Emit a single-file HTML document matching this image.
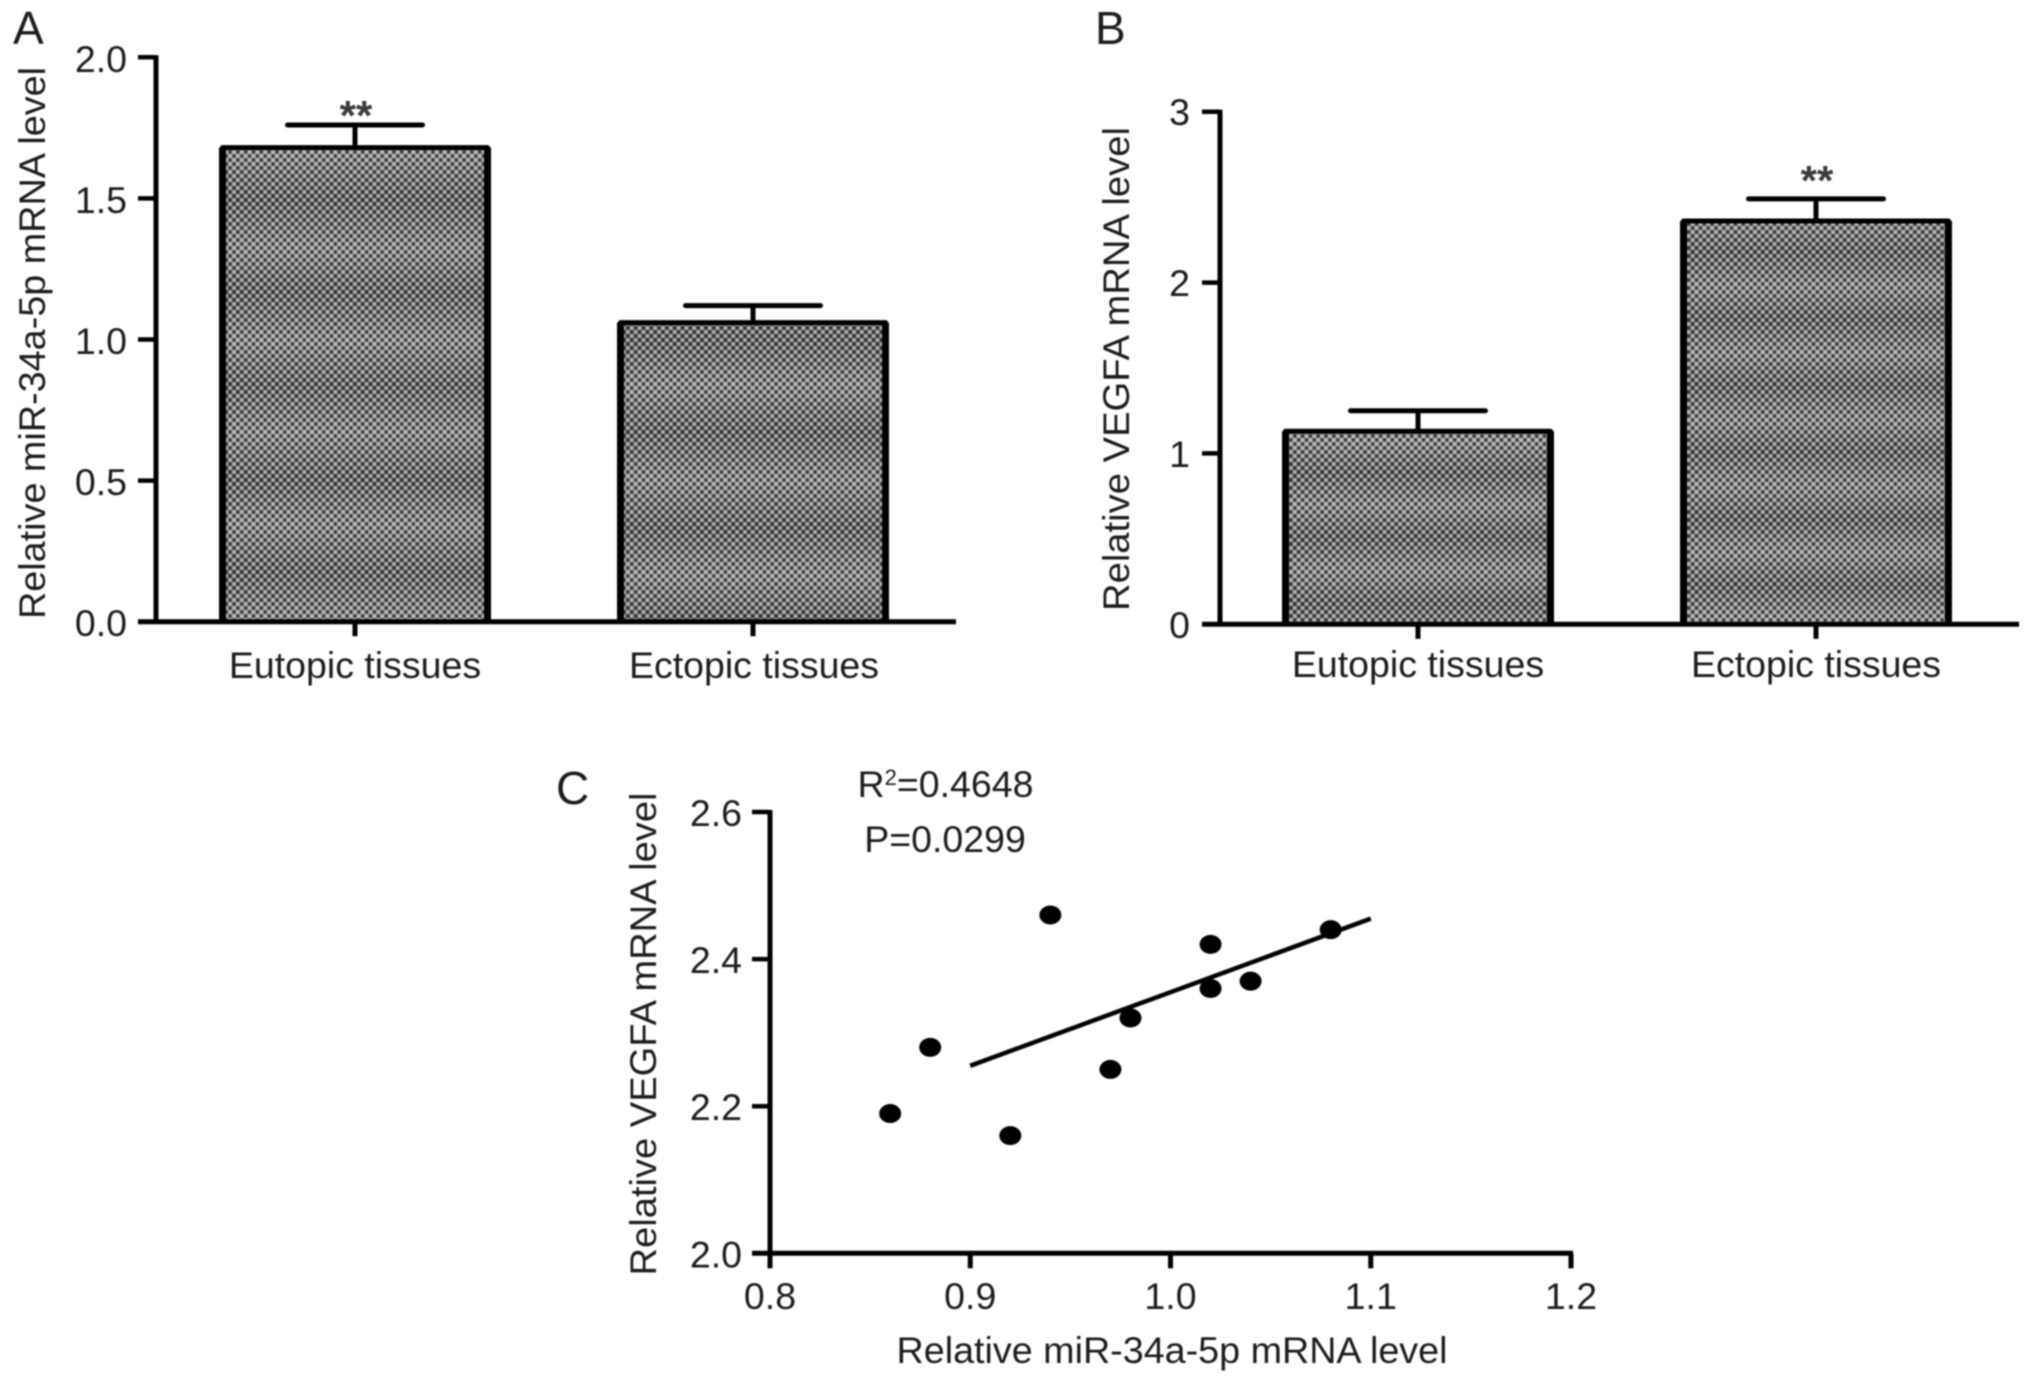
<!DOCTYPE html>
<html>
<head>
<meta charset="utf-8">
<title>miR-34a-5p and VEGFA expression</title>
<style>
html,body{margin:0;padding:0;background:#fff;width:2031px;height:1383px;overflow:hidden}
svg{display:block;filter:blur(0.8px)}
text{font-family:"Liberation Sans",Arial,sans-serif;fill:#1c1c1c;font-size:37.5px}
</style>
</head>
<body>
<svg id="figure" xmlns="http://www.w3.org/2000/svg" width="2031" height="1383" viewBox="0 0 2031 1383">
<defs id="figure-defs">
<pattern id="dots" patternUnits="userSpaceOnUse" width="7.8" height="8">
<circle cx="0" cy="0" r="1.65" fill="#d0d0d0" fill-opacity=".8"/><circle cx="7.8" cy="0" r="1.65" fill="#d0d0d0" fill-opacity=".8"/>
<circle cx="0" cy="8" r="1.65" fill="#d0d0d0" fill-opacity=".8"/><circle cx="7.8" cy="8" r="1.65" fill="#d0d0d0" fill-opacity=".8"/>
<circle cx="3.9" cy="4" r="1.65" fill="#d0d0d0" fill-opacity=".8"/>
<circle cx="3.9" cy="0" r="1.5" fill="#1c1c1c" fill-opacity=".85"/><circle cx="3.9" cy="8" r="1.5" fill="#1c1c1c" fill-opacity=".85"/>
<circle cx="0" cy="4" r="1.5" fill="#1c1c1c" fill-opacity=".85"/><circle cx="7.8" cy="4" r="1.5" fill="#1c1c1c" fill-opacity=".85"/>
</pattern>
</defs>
<text x="13" y="44" style="font-size:46px">A</text>
<text x="1095" y="44" style="font-size:46px">B</text>
<text x="556" y="804" style="font-size:46px">C</text>
<text x="45" y="343" text-anchor="middle" transform="rotate(-90 45 343)" textLength="552" lengthAdjust="spacingAndGlyphs">Relative miR-34a-5p mRNA level</text>
<text x="1129" y="369" text-anchor="middle" transform="rotate(-90 1129 369)" textLength="484" lengthAdjust="spacingAndGlyphs">Relative VEGFA mRNA level</text>
<text x="656" y="1034" text-anchor="middle" transform="rotate(-90 656 1034)" textLength="483" lengthAdjust="spacingAndGlyphs">Relative VEGFA mRNA level</text>
<text x="1172" y="1363" text-anchor="middle" textLength="551" lengthAdjust="spacingAndGlyphs">Relative miR-34a-5p mRNA level</text>
<text x="945.5" y="797" text-anchor="middle">R<tspan dy="-12" style="font-size:22px">2</tspan><tspan dy="12">=0.4648</tspan></text>
<text x="945" y="852" text-anchor="middle">P=0.0299</text>
</svg>
<script>
const barCategories = ['Eutopic tissues', 'Ectopic tissues'];
const panelAMeans = [1.68, 1.06];
const panelAUpperErrors = [1.76, 1.12];
const panelASignificance = ['**', ''];
const panelATicks = [0, 0.5, 1, 1.5, 2];
const panelATickLabels = ['0.0', '0.5', '1.0', '1.5', '2.0'];
const panelBMeans = [1.13, 2.36];
const panelBUpperErrors = [1.25, 2.49];
const panelBSignificance = ['', '**'];
const panelBTicks = [0, 1, 2, 3];
const panelBTickLabels = ['0', '1', '2', '3'];
const scatterX = [0.86, 0.88, 0.92, 0.94, 0.97, 0.98, 1.02, 1.02, 1.04, 1.08];
const scatterY = [2.19, 2.28, 2.16, 2.46, 2.25, 2.32, 2.42, 2.36, 2.37, 2.44];
const trendX = [0.9, 1.1];
const trendY = [2.255, 2.455];
const scatterXTicks = [0.8, 0.9, 1.0, 1.1, 1.2];
const scatterXTickLabels = ['0.8', '0.9', '1.0', '1.1', '1.2'];
const scatterYTicks = [2.0, 2.2, 2.4, 2.6];
const scatterYTickLabels = ['2.0', '2.2', '2.4', '2.6'];

const svg = document.getElementById('figure');
const defs = document.getElementById('figure-defs');
const NS = 'http://www.w3.org/2000/svg';

function make(tag, attrs, content) {
  const el = document.createElementNS(NS, tag);
  for (const k in attrs) el.setAttribute(k, attrs[k]);
  if (content !== undefined) el.textContent = content;
  svg.appendChild(el);
  return el;
}
function line(x1, y1, x2, y2, w, cap) {
  return make('line', {x1, y1, x2, y2, stroke: '#000', 'stroke-width': w, 'stroke-linecap': cap || 'butt'});
}
function bandGradient(id, darkY, period) {
  const g = document.createElementNS(NS, 'linearGradient');
  g.setAttribute('id', id);
  g.setAttribute('gradientUnits', 'userSpaceOnUse');
  g.setAttribute('x1', 0);
  g.setAttribute('x2', 0);
  g.setAttribute('y1', darkY);
  g.setAttribute('y2', darkY + period);
  g.setAttribute('spreadMethod', 'repeat');
  [[0, '#626262'], [0.5, '#8e8e8e'], [1, '#626262']].forEach(s => {
    const st = document.createElementNS(NS, 'stop');
    st.setAttribute('offset', s[0]);
    st.setAttribute('stop-color', s[1]);
    g.appendChild(st);
  });
  defs.appendChild(g);
}
function drawAxes(prefix, x0, y0, xEnd, yTop, yTicks, yLabels, yScale, labelRight, labelDy) {
  let el = line(x0, yTop - 2, x0, y0 + 2, 5);
  
  
  el = line(x0 - 18, y0, xEnd, y0, 5);
  
  
  yTicks.forEach((t, i) => {
    const y = yScale(t);
    const tick = line(x0 - 18, y, x0, y, 4.5);
    
    
    const lab = make('text', {x: labelRight, y: y + labelDy, 'text-anchor': 'end'}, yLabels[i]);
    
    
  });
}
function drawBars(prefix, x0, y0, xEnd, yTop, maxV, ticks, tickLabels, means, errors, sig, centers, labelCenters, labelRight, labelY, labelDy, starGap, bands) {
  const yScale = v => y0 - (v / maxV) * (y0 - yTop);
  const barW = 265;
  means.forEach((m, i) => {
    const cx = centers[i];
    const top = yScale(m);
    const errTop = yScale(errors[i]);
    const left = cx - barW / 2;
    const right = cx + barW / 2;
    const gid = prefix + '-bands-' + i;
    bandGradient(gid, bands[i][0], bands[i][1]);
    const fill = make('rect', {x: left, y: top, width: barW, height: y0 - top, fill: 'url(#' + gid + ')'});
    
    
    const bar = make('rect', {x: left, y: top, width: barW, height: y0 - top, fill: 'url(#dots)'});
    
    
    const outline = make('path', {d: 'M' + left + ' ' + y0 + 'V' + top + 'H' + right + 'V' + y0, fill: 'none', stroke: '#000', 'stroke-width': 5, 'stroke-linejoin': 'round'});
    
    
    const sides = make('path', {d: 'M' + left + ' ' + y0 + 'V' + top + 'M' + right + ' ' + top + 'V' + y0, fill: 'none', stroke: '#000', 'stroke-width': 7});
    
    
    const stem = line(cx, top, cx, errTop, 5);
    
    
    const cap = line(cx - 67.5, errTop, cx + 67.5, errTop, 5, 'round');
    
    
    if (sig[i]) {
      const star = make('text', {x: cx + 1, y: errTop + starGap, 'text-anchor': 'middle', 'font-weight': 'bold', style: 'font-size:42px;fill:#3a3a3a'}, sig[i]);
      
      
    }
    const tick = line(cx, y0, cx, y0 + 14.5, 5);
    
    
    const lab = make('text', {x: labelCenters[i], y: labelY, 'text-anchor': 'middle'}, barCategories[i]);
    
    
  });
  drawAxes(prefix, x0, y0, xEnd, yTop, ticks, tickLabels, yScale, labelRight, labelDy);
}

drawBars('panel-a', 156, 621.7, 956, 57.3, 2, panelATicks, panelATickLabels, panelAMeans, panelAUpperErrors, panelASignificance, [355, 753], [355, 754], 127, 678, 14.5, 5, [[200, 93], [433, 94]]);
drawBars('panel-b', 1220, 624.3, 2019, 111.7, 3, panelBTicks, panelBTickLabels, panelBMeans, panelBUpperErrors, panelBSignificance, [1418, 1816], [1418, 1816], 1190, 677, 13.5, -4, [[473, 65], [253, 66.5]]);

const sx = v => 770 + (v - 0.8) / 0.4 * (1571 - 770);
const sy = v => 1253.3 - (v - 2.0) / 0.6 * (1253.3 - 812);
drawAxes('panel-c', sx(0.8), sy(2.0), sx(1.2) + 2, sy(2.6), scatterYTicks, scatterYTickLabels, sy, 742, 14);
scatterXTicks.forEach((t, i) => {
  const tick = line(sx(t), sy(2.0), sx(t), sy(2.0) + 15, 5);
  
  
  const lab = make('text', {x: sx(t), y: 1309, 'text-anchor': 'middle'}, scatterXTickLabels[i]);
  
  
});
const trend = line(sx(trendX[0]), sy(trendY[0]), sx(trendX[1]), sy(trendY[1]), 4.5);


scatterX.forEach((v, i) => {
  const pt = make('ellipse', {cx: sx(v), cy: sy(scatterY[i]), rx: 11, ry: 9.5, fill: '#000'});
  
  
});
</script>
</body>
</html>
